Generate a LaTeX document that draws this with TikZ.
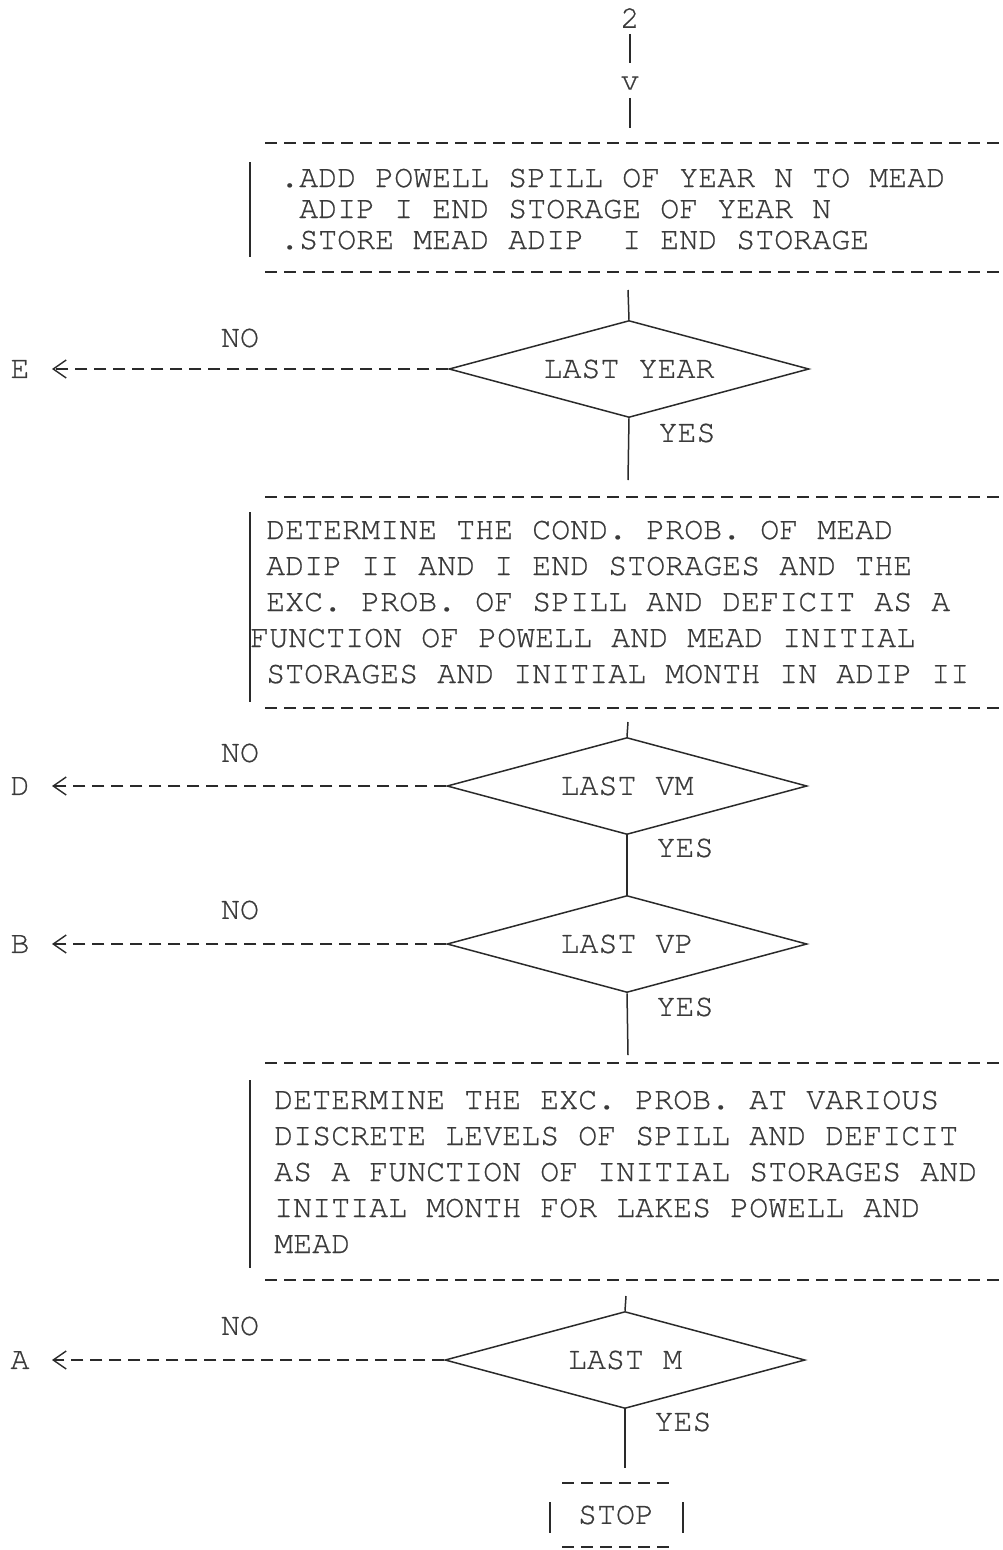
\documentclass[tikz,border=0pt]{standalone}
\usepackage{fontspec}
\newfontfamily\tw[FakeBold=0.6]{TeX Gyre Cursor}
\usetikzlibrary{shapes.geometric,arrows.meta}
\definecolor{ink}{HTML}{3A3A3A}
\definecolor{lineink}{HTML}{2A2A2A}
\begin{document}
\begin{tikzpicture}[x=1pt,y=-1pt,
  txt/.style={font=\tw\fontsize{31.67}{36}\selectfont, text=ink, inner sep=0pt},
  ln/.style={txt, anchor=base west},
  solidline/.style={draw=lineink, line width=1.5pt},
  typedash/.style={draw=lineink, line width=2.6pt, dash pattern=on 12pt off 7pt},
  bar/.style={draw=lineink, line width=1.8pt},
  decision/.style={diamond, shape aspect=3.7, draw=lineink, line width=1.5pt,
    minimum width=360pt, minimum height=97pt, txt},
  exit/.style={typedash, -{Straight Barb[length=13pt,width=18pt,line width=1.4pt]}}
]
\useasboundingbox (0,0) rectangle (1003,1550);

% ---- entry from connector 2
\node[txt] (n2) at (630,18) {2};
\node[txt] (nv) at (630,83) {v};
\draw[solidline, shorten <=6pt, shorten >=13.5pt] (n2) -- (nv);
\coordinate (b1in) at (630,143);
\draw[solidline, shorten <=8pt, shorten >=15pt] (nv) -- (b1in);

% ---- box 1
\coordinate (b1tl) at (265,143); \coordinate (b1tr) at (1003,143);
\coordinate (b1bl) at (265,272); \coordinate (b1br) at (1003,272);
\draw[typedash] (b1tl) -- (b1tr);
\draw[typedash] (b1bl) -- (b1br);
\draw[bar] (250,162) -- (250,257);
\node[ln] (b1a) at (280,187) {.ADD POWELL SPILL OF YEAR N TO MEAD};
\node[ln] (b1b) at (299,218) {ADIP I END STORAGE OF YEAR N};
\node[ln] (b1c) at (280,249) {.STORE MEAD ADIP\ \ I END STORAGE};

% ---- decision 1
\node[decision] (d1) at (629,369) {LAST YEAR};
\coordinate (b1out) at (628,290);
\draw[solidline] (b1out) -- (d1.north);
\node[txt] (no1) at (240,338) {NO};
\node[txt] (lE) at (20,369) {E};
\coordinate (tipE) at (52,369);
\draw[exit] (d1.west) -- (tipE);
\node[txt] (yes1) at (687,433) {YES};
\coordinate (b2in) at (628,480);
\draw[solidline] (d1.south) -- (b2in);

% ---- box 2
\coordinate (b2tl) at (265,497); \coordinate (b2tr) at (1003,497);
\coordinate (b2bl) at (265,708); \coordinate (b2br) at (1003,708);
\draw[typedash] (b2tl) -- (b2tr);
\draw[typedash] (b2bl) -- (b2br);
\draw[bar] (250,512) -- (250,702);
\node[ln] (b2a) at (266,539) {DETERMINE THE COND. PROB. OF MEAD};
\node[ln] (b2b) at (266,575) {ADIP II AND I END STORAGES AND THE};
\node[ln] (b2c) at (266,611) {EXC. PROB. OF SPILL AND DEFICIT AS A};
\node[ln] (b2d) at (250,647) {FUNCTION OF POWELL AND MEAD INITIAL};
\node[ln] (b2e) at (266,683) {STORAGES AND INITIAL MONTH IN ADIP II};

% ---- decision 2
\node[decision] (d2) at (627,786) {LAST VM};
\coordinate (b2out) at (628,722);
\draw[solidline] (b2out) -- (d2.north);
\node[txt] (no2) at (240,753) {NO};
\node[txt] (lD) at (20,786) {D};
\coordinate (tipD) at (52,786);
\draw[exit] (d2.west) -- (tipD);
\node[txt] (yes2) at (685,848) {YES};

% ---- decision 3
\node[decision] (d3) at (627,944) {LAST VP};
\draw[solidline] (d2.south) -- (d3.north);
\node[txt] (no3) at (240,910) {NO};
\node[txt] (lB) at (20,944) {B};
\coordinate (tipB) at (52,944);
\draw[exit] (d3.west) -- (tipB);
\node[txt] (yes3) at (685,1007) {YES};
\coordinate (b3in) at (628,1055);
\draw[solidline] (d3.south) -- (b3in);

% ---- box 3
\coordinate (b3tl) at (265,1063); \coordinate (b3tr) at (1003,1063);
\coordinate (b3bl) at (265,1280); \coordinate (b3br) at (1003,1280);
\draw[typedash] (b3tl) -- (b3tr);
\draw[typedash] (b3bl) -- (b3br);
\draw[bar] (250,1080) -- (250,1268);
\node[ln] (b3a) at (274,1109) {DETERMINE THE EXC. PROB. AT VARIOUS};
\node[ln] (b3b) at (274,1145) {DISCRETE LEVELS OF SPILL AND DEFICIT};
\node[ln] (b3c) at (274,1181) {AS A FUNCTION OF INITIAL STORAGES AND};
\node[ln] (b3d) at (274,1217) {INITIAL MONTH FOR LAKES POWELL AND};
\node[ln] (b3e) at (274,1253) {MEAD};

% ---- decision 4
\node[decision] (d4) at (625,1360) {LAST M};
\coordinate (b3out) at (626,1296);
\draw[solidline] (b3out) -- (d4.north);
\node[txt] (no4) at (240,1326) {NO};
\node[txt] (lA) at (20,1360) {A};
\coordinate (tipA) at (52,1360);
\draw[exit] (d4.west) -- (tipA);
\node[txt] (yes4) at (683,1422) {YES};

% ---- stop
\coordinate (stopin) at (625,1468);
\draw[solidline] (d4.south) -- (stopin);
\draw[typedash] (562,1483) -- (670,1483);
\draw[typedash] (562,1547) -- (670,1547);
\draw[bar] (550,1502) -- (550,1533);
\draw[bar] (683,1502) -- (683,1533);
\node[txt] (stop) at (616,1515) {STOP};
\end{tikzpicture}
\end{document}
